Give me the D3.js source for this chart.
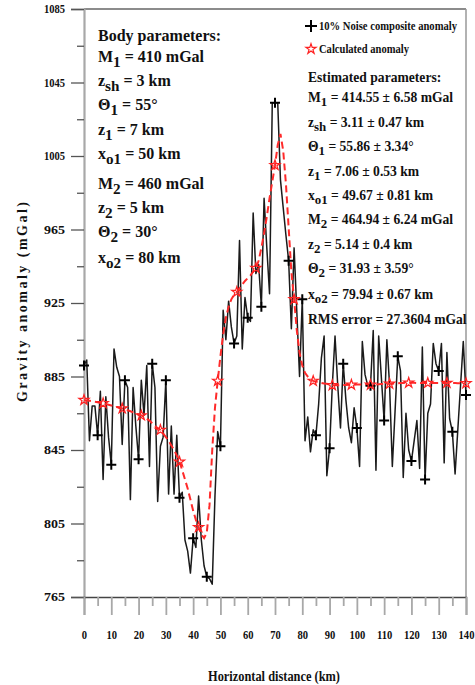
<!DOCTYPE html>
<html>
<head>
<meta charset="utf-8">
<script src="https://cdn.jsdelivr.net/npm/d3@7"></script>
<style>
  html, body { margin: 0; padding: 0; background: #fff; }
  svg { display: block; }
  text { font-family: "Liberation Serif", "Times New Roman", serif; font-weight: bold; fill: #111; }
</style>
</head>
<body>
<svg id="chart" width="475" height="685"></svg>
<script>
// ---------------- DATA ----------------
const distanceKm = d3.range(0, 141); // sampling grid, 1 km

const noisyAnomaly = [
  891, 894, 850, 869, 869, 853, 877, 829, 874, 852,
  837, 900, 890, 885, 848, 883, 879, 818, 879, 858,
  840, 883, 864, 891, 836, 892, 879, 817, 847, 852,
  883, 821, 858, 821, 853, 819, 822, 796, 790, 778,
  797, 792, 820, 796, 782, 776, 775, 772, 820, 855,
  847, 921, 905, 926, 912, 903, 907, 959, 900, 928,
  917, 915, 974, 941, 946, 923, 982, 955, 930, 1034,
  1034, 1034, 992, 977, 962, 948, 911, 955, 920, 885,
  927, 850, 863, 844, 856, 853, 870, 895, 907, 831,
  846, 880, 907, 880, 857, 892, 872, 857, 849, 868,
  857, 836, 904, 886, 880, 880, 910, 834, 907, 884,
  861, 905, 880, 836, 866, 896, 888, 830, 865, 845,
  839, 850, 861, 835, 901, 829, 865, 870, 903, 892,
  888, 903, 838, 898, 862, 855, 832, 856, 880, 904,
  875
];

const calculatedAnomaly = [
  872.2, 872.0, 871.8, 871.5, 871.3, 871.0, 870.7, 870.4, 870.0, 869.6,
  869.2, 868.8, 868.4, 868.0, 867.6, 867.1, 866.6, 866.1, 865.5, 864.9,
  864.4, 863.8, 863.0, 862.0, 861.0, 859.5, 858.0, 857.0, 855.9, 854.0,
  852.0, 850.0, 847.5, 845.0, 842.0, 838.6, 834.0, 829.0, 824.0, 818.0,
  812.0, 807.0, 803.0, 799.0, 797.0, 800.0, 815.0, 845.0, 868.0, 882.6,
  896.0, 908.0, 917.0, 923.0, 927.0, 929.5, 931.0, 933.0, 935.0, 937.0,
  938.5, 940.0, 942.0, 944.0, 948.0, 955.0, 963.0, 972.0, 982.0, 991.0,
  1000.0, 1011.0, 1017.0, 1008.0, 990.0, 966.0, 942.0, 927.0, 910.0, 898.0,
  891.0, 887.0, 885.0, 883.5, 882.6, 882.2, 881.8, 881.5, 881.2, 881.0,
  880.6, 880.2, 880.2, 880.3, 880.3, 880.4, 880.4, 880.5, 880.5, 880.5,
  880.6, 880.6, 880.6, 880.6, 880.6, 880.5, 880.6, 880.7, 880.8, 880.9,
  881.0, 881.0, 881.0, 881.1, 881.2, 881.3, 881.4, 881.5, 881.6, 881.6,
  881.6, 881.6, 881.5, 881.5, 881.5, 881.5, 881.5, 881.5, 881.5, 881.5,
  881.5, 881.5, 881.5, 881.5, 881.4, 881.4, 881.4, 881.3, 881.3, 881.3,
  881.3
];

const xMajorTicks = [0, 10, 20, 30, 40, 50, 60, 70, 80, 90, 100, 110, 120, 130, 140];
const xMinorTicks = [5, 15, 25, 35, 45, 55, 65, 75, 85, 95, 105, 115, 125, 135];
const yMajorTicks = [765, 805, 845, 885, 925, 965, 1005, 1045, 1085];
const yMinorTicks = [785, 825, 865, 905, 945, 985, 1025, 1065];

const noiseMarkerEvery = 5;   // km
const calcMarkerEvery = 7;    // km

const legendLabels = ["10% Noise composite anomaly", "Calculated anomaly"];
const xTitle = "Horizontal distance (km)";
const yTitle = "Gravity anomaly (mGal)";

// rich text lines: [text, isSubscript]
const bodyParams = [
  [["Body parameters:", 0]],
  [["M", 0], ["1", 1], [" = 410 mGal", 0]],
  [["z", 0], ["sh", 1], [" = 3 km", 0]],
  [["\u0398", 0], ["1", 1], [" = 55\u00b0", 0]],
  [["z", 0], ["1", 1], [" = 7 km", 0]],
  [["x", 0], ["o1", 1], [" = 50 km", 0]],
  [["M", 0], ["2", 1], [" = 460 mGal", 0]],
  [["z", 0], ["2", 1], [" = 5 km", 0]],
  [["\u0398", 0], ["2", 1], [" = 30\u00b0", 0]],
  [["x", 0], ["o2", 1], [" = 80 km", 0]]
];
const bodyBaselines = [41, 62, 86, 110, 135, 159, 189, 213, 237, 263];

const estParams = [
  [["Estimated parameters:", 0]],
  [["M", 0], ["1", 1], [" = 414.55 \u00b1 6.58 mGal", 0]],
  [["z", 0], ["sh", 1], [" = 3.11 \u00b1 0.47 km", 0]],
  [["\u0398", 0], ["1", 1], [" = 55.86 \u00b1 3.34\u00b0", 0]],
  [["z", 0], ["1", 1], [" = 7.06 \u00b1 0.53 km", 0]],
  [["x", 0], ["o1", 1], [" = 49.67 \u00b1 0.81 km", 0]],
  [["M", 0], ["2", 1], [" = 464.94 \u00b1 6.24 mGal", 0]],
  [["z", 0], ["2", 1], [" = 5.14 \u00b1 0.4 km", 0]],
  [["\u0398", 0], ["2", 1], [" = 31.93 \u00b1 3.59\u00b0", 0]],
  [["x", 0], ["o2", 1], [" = 79.94 \u00b1 0.67 km", 0]],
  [["RMS error = 27.3604 mGal", 0]]
];
const estBaselines = [82, 102, 127, 151, 176, 200, 224, 249, 273, 299, 324];

// ---------------- CHART ----------------
const svg = d3.select("#chart");
const x = d3.scaleLinear().domain([0, 140]).range([84, 466]);
const y = d3.scaleLinear().domain([765, 1085]).range([597, 9]);

const axisGray = "#a8a8a8";

// frame (top + right)
svg.append("line").attr("x1", x(0)).attr("x2", x(140)).attr("y1", y(1085)).attr("y2", y(1085))
  .attr("stroke", "#666").attr("stroke-width", 1.5);
svg.append("line").attr("x1", x(140)).attr("x2", x(140)).attr("y1", y(1085)).attr("y2", y(765))
  .attr("stroke", "#999").attr("stroke-width", 1.5);

// Y axis
const yAxis = svg.append("g").attr("transform", `translate(${x(0)},0)`)
  .call(d3.axisLeft(y).tickValues(yMajorTicks).tickSize(13).tickPadding(6).tickFormat(d3.format("d")));
yAxis.select(".domain").attr("stroke", axisGray).attr("stroke-width", 2.2);
yAxis.selectAll(".tick line").attr("stroke", "#555").attr("stroke-width", 1.3);
yAxis.selectAll(".tick text").attr("font-size", 12).attr("font-family", "Liberation Serif, serif")
  .attr("font-weight", "bold").attr("fill", "#222")
  .attr("textLength", 21).attr("lengthAdjust", "spacingAndGlyphs");
const yMinor = svg.append("g").attr("transform", `translate(${x(0)},0)`)
  .call(d3.axisLeft(y).tickValues(yMinorTicks).tickSize(7).tickFormat(""));
yMinor.select(".domain").remove();
yMinor.selectAll(".tick line").attr("stroke", "#555").attr("stroke-width", 1.3);

// X axis
const xAxis = svg.append("g").attr("transform", `translate(0,${y(765)})`)
  .call(d3.axisBottom(x).tickValues(xMajorTicks).tickSize(18).tickPadding(15).tickFormat(d3.format("d")));
xAxis.select(".domain").attr("stroke", "#444").attr("stroke-width", 1.5);
xAxis.selectAll(".tick line").attr("stroke", axisGray).attr("stroke-width", 1.8);
xAxis.selectAll(".tick text").attr("font-size", 12).attr("font-family", "Liberation Serif, serif")
  .attr("font-weight", "bold").attr("fill", "#222")
  .attr("transform", "scale(0.88,1)")
  .attr("x", 0);
const xMinor = svg.append("g").attr("transform", `translate(0,${y(765)})`)
  .call(d3.axisBottom(x).tickValues(xMinorTicks).tickSize(9).tickFormat(""));
xMinor.select(".domain").remove();
xMinor.selectAll(".tick line").attr("stroke", axisGray).attr("stroke-width", 1.8);

// axis titles
svg.append("text").attr("x", 274).attr("y", 681).attr("text-anchor", "middle")
  .attr("font-size", 14).attr("textLength", 132).attr("lengthAdjust", "spacingAndGlyphs").text(xTitle);
svg.append("text").attr("transform", `translate(27,302) rotate(-90)`).attr("text-anchor", "middle")
  .attr("font-size", 14).attr("textLength", 200).attr("lengthAdjust", "spacing").text(yTitle);

// data lines
const noisePts = distanceKm.map((d, i) => [d, noisyAnomaly[i]]);
const calcPts = distanceKm.map((d, i) => [d, calculatedAnomaly[i]]);
const line = d3.line().x(d => x(d[0])).y(d => y(d[1]));

svg.append("path").datum(noisePts).attr("d", line).attr("fill", "none")
  .attr("stroke", "#1a1a1a").attr("stroke-width", 1.5).attr("stroke-linejoin", "round");

svg.append("path").datum(calcPts).attr("d", line).attr("fill", "none")
  .attr("stroke", "#ff2a2a").attr("stroke-width", 2).attr("stroke-dasharray", "7,4");

// markers
const plusPath = "M-5,0H5M0,-5V5";
const starPath = d3.symbol().type(d3.symbolStar).size(32)();

svg.append("g").selectAll("path").data(noisePts.filter(d => d[0] % noiseMarkerEvery === 0)).join("path")
  .attr("transform", d => `translate(${x(d[0])},${y(d[1])})`)
  .attr("d", plusPath).attr("stroke", "#000").attr("stroke-width", 2).attr("fill", "none");

svg.append("g").selectAll("path").data(calcPts.filter(d => d[0] % calcMarkerEvery === 0)).join("path")
  .attr("transform", d => `translate(${x(d[0])},${y(d[1])})`)
  .attr("d", starPath).attr("stroke", "#ff2020").attr("stroke-width", 1.2).attr("fill", "none");

// legend
const lg = svg.append("g");
lg.append("path").attr("transform", "translate(311,26)").attr("d", "M-6,0H6M0,-6V6")
  .attr("stroke", "#000").attr("stroke-width", 2);
lg.append("text").attr("x", 319).attr("y", 30).attr("font-size", 12)
  .attr("textLength", 138).attr("lengthAdjust", "spacingAndGlyphs").text(legendLabels[0]);
lg.append("path").attr("transform", "translate(311,49)").attr("d", starPath)
  .attr("stroke", "#ff2020").attr("stroke-width", 1.2).attr("fill", "none");
lg.append("text").attr("x", 319).attr("y", 53).attr("font-size", 12)
  .attr("textLength", 90).attr("lengthAdjust", "spacingAndGlyphs").text(legendLabels[1]);

// rich text blocks
function richLines(xPos, baselines, lines, size) {
  lines.forEach((parts, i) => {
    const t = svg.append("text").attr("x", xPos).attr("y", baselines[i]).attr("font-size", size);
    let shifted = false;
    parts.forEach(([str, sub]) => {
      const ts = t.append("tspan").text(str);
      if (sub && !shifted) { ts.attr("dy", size * 0.32).attr("font-size", size * 0.95); shifted = true; }
      else if (!sub && shifted) { ts.attr("dy", -size * 0.32); shifted = false; }
    });
  });
}
richLines(98, bodyBaselines, bodyParams, 16);
richLines(308, estBaselines, estParams, 13.6);
</script>
</body>
</html>
